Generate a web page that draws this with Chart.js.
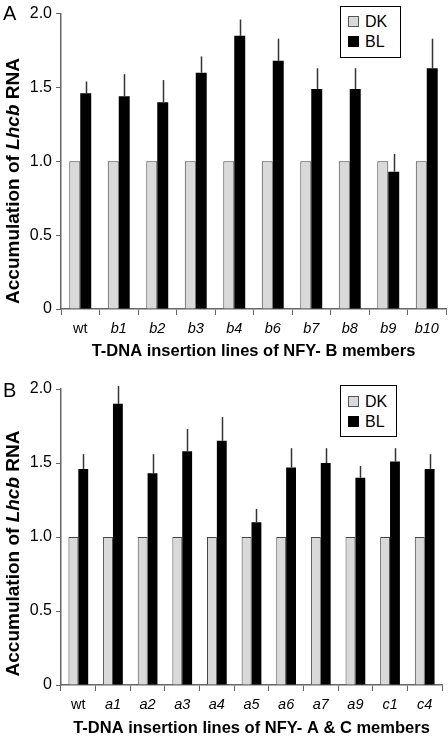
<!DOCTYPE html>
<html><head><meta charset="utf-8">
<script src="https://cdn.jsdelivr.net/npm/chart.js@4.4.1/dist/chart.umd.min.js"></script>
<style>
html,body{margin:0;padding:0;background:#fff;}
body{width:448px;height:737px;position:relative;overflow:hidden;font-family:"Liberation Sans",Arial,sans-serif;}
.panel{position:absolute;left:0;}
.letter{position:absolute;font-size:20px;line-height:1;color:#000;}
.legend{position:absolute;border:1px solid #000;box-sizing:border-box;background:#fff;font-size:16px;color:#000;}
.item{position:absolute;left:7px;height:11px;display:flex;align-items:center;white-space:nowrap;}
.sw{width:11px;height:11px;box-sizing:border-box;margin-right:6px;}
.sw.dk{background:#d9d9d9;border:1px solid #555;}
.sw.bl{background:#000;}
</style></head><body>
<div class="panel" style="top:0;width:448px;height:362px;"><canvas id="cA" width="448" height="362"></canvas></div>
<div class="panel" style="top:370px;width:448px;height:367px;"><canvas id="cB" width="448" height="367"></canvas></div>
<div class="letter" style="left:3px;top:3px;">A</div>
<div class="letter" style="left:3px;top:380px;">B</div>
<div class="legend" style="left:340px;top:6px;width:61px;height:52px;">
  <div class="item" style="top:9px;"><span class="sw dk"></span><span>DK</span></div>
  <div class="item" style="top:29px;"><span class="sw bl"></span><span>BL</span></div>
</div>
<div class="legend" style="left:340px;top:385px;width:57px;height:52px;">
  <div class="item" style="top:10px;"><span class="sw dk"></span><span>DK</span></div>
  <div class="item" style="top:30px;"><span class="sw bl"></span><span>BL</span></div>
</div>
<script>
// ---- Data ----
const seriesNames = ['DK', 'BL'];
const yTicks = [0, 0.5, 1.0, 1.5, 2.0];

const linesA = ['wt', 'b1', 'b2', 'b3', 'b4', 'b6', 'b7', 'b8', 'b9', 'b10'];
const dkA = [1, 1, 1, 1, 1, 1, 1, 1, 1, 1];
const blA = [1.46, 1.44, 1.40, 1.60, 1.85, 1.68, 1.49, 1.49, 0.93, 1.63];
const errA = [0.08, 0.15, 0.15, 0.11, 0.11, 0.15, 0.14, 0.14, 0.12, 0.20];
const xTitleA = 'T-DNA insertion lines of NFY- B members';

const linesB = ['wt', 'a1', 'a2', 'a3', 'a4', 'a5', 'a6', 'a7', 'a9', 'c1', 'c4'];
const dkB = [1, 1, 1, 1, 1, 1, 1, 1, 1, 1, 1];
const blB = [1.46, 1.90, 1.43, 1.58, 1.65, 1.10, 1.47, 1.50, 1.40, 1.51, 1.46];
const errB = [0.10, 0.12, 0.13, 0.15, 0.16, 0.09, 0.13, 0.10, 0.08, 0.09, 0.10];
const xTitleB = 'T-DNA insertion lines of NFY- A & C members';

const yTitleParts = [['Accumulation of ', 'normal'], ['Lhcb', 'italic'], [' RNA', 'normal']];

const FONT = '"Liberation Sans", Arial, sans-serif';

const errorBarPlugin = {
  id: 'errorBars',
  afterDatasetsDraw(chart, args, opts) {
    const ctx = chart.ctx;
    const meta = chart.getDatasetMeta(1);
    const ys = chart.scales.y;
    const vals = chart.data.datasets[1].data;
    ctx.save();
    ctx.strokeStyle = '#333';
    ctx.lineWidth = 1.5;
    meta.data.forEach((el, i) => {
      const yTop = ys.getPixelForValue(vals[i] + opts.err[i]);
      ctx.beginPath();
      ctx.moveTo(Math.round(el.x) + 0.5, el.y);
      ctx.lineTo(Math.round(el.x) + 0.5, yTop);
      ctx.stroke();
    });
    ctx.restore();
  }
};

const yTitlePlugin = {
  id: 'yTitle',
  afterDraw(chart) {
    const ctx = chart.ctx;
    const size = 19;
    ctx.save();
    ctx.translate(14, chart.height / 2);
    ctx.rotate(-Math.PI / 2);
    ctx.fillStyle = '#000';
    ctx.textBaseline = 'middle';
    let total = 0;
    const widths = yTitleParts.map(([t, st]) => {
      ctx.font = `${st} bold ${size}px ${FONT}`;
      const w = ctx.measureText(t).width; total += w; return w;
    });
    let x = -total / 2;
    yTitleParts.forEach(([t, st], i) => {
      ctx.font = `${st} bold ${size}px ${FONT}`;
      ctx.textAlign = 'left';
      ctx.fillText(t, x, 0);
      x += widths[i];
    });
    ctx.restore();
  }
};

function makeChart(id, labels, dk, bl, err, xTitle, pad, xHeight, titlePadBottom) {
  return new Chart(document.getElementById(id), {
    type: 'bar',
    data: {
      labels: labels,
      datasets: [
        { label: seriesNames[0], data: dk, backgroundColor: '#d9d9d9', borderColor: '#444', borderWidth: 1 },
        { label: seriesNames[1], data: bl, backgroundColor: '#000', borderWidth: 0 }
      ]
    },
    options: {
      responsive: false,
      animation: false,
      devicePixelRatio: 1,
      categoryPercentage: 0.57,
      barPercentage: 1.0,
      layout: { padding: pad },
      plugins: {
        legend: { display: false },
        tooltip: { enabled: false },
        errorBars: { err: err }
      },
      scales: {
        x: {
          offset: true,
          grid: { display: true, drawOnChartArea: false, drawTicks: true, tickLength: 6, color: '#666', offset: true },
          border: { display: true, color: '#666', width: 1.5 },
          ticks: {
            color: '#000', padding: 5, maxRotation: 0, autoSkip: false,
            font: (c) => ({ family: FONT, size: 14.5, style: c.index === 0 ? 'normal' : 'italic' })
          },
          title: { display: true, text: xTitle, color: '#000',
            font: { family: FONT, size: 16.5, weight: 'bold', lineHeight: 1 },
            padding: { top: 0, bottom: titlePadBottom } },
          afterFit: (s) => { s.height = xHeight; }
        },
        y: {
          min: 0, max: 2,
          afterBuildTicks: (s) => { s.ticks = yTicks.map(v => ({ value: v })); },
          grid: { display: true, drawOnChartArea: false, drawTicks: true, tickLength: 5, color: '#666' },
          border: { display: true, color: '#666', width: 1.5 },
          ticks: {
            color: '#000', padding: 4,
            font: { family: FONT, size: 16 },
            callback: (v) => v === 0 ? '0' : Number(v).toFixed(1)
          },
          afterFit: (s) => { s.width = 61; }
        }
      }
    },
    plugins: [errorBarPlugin, yTitlePlugin]
  });
}

makeChart('cA', linesA, dkA, blA, errA, xTitleA, { left: 0, right: 2, top: 10, bottom: 0 }, 53, 2);
makeChart('cB', linesB, dkB, blB, errB, xTitleB, { left: 0, right: 6, top: 19, bottom: 0 }, 52, 0);
</script>
</body></html>
